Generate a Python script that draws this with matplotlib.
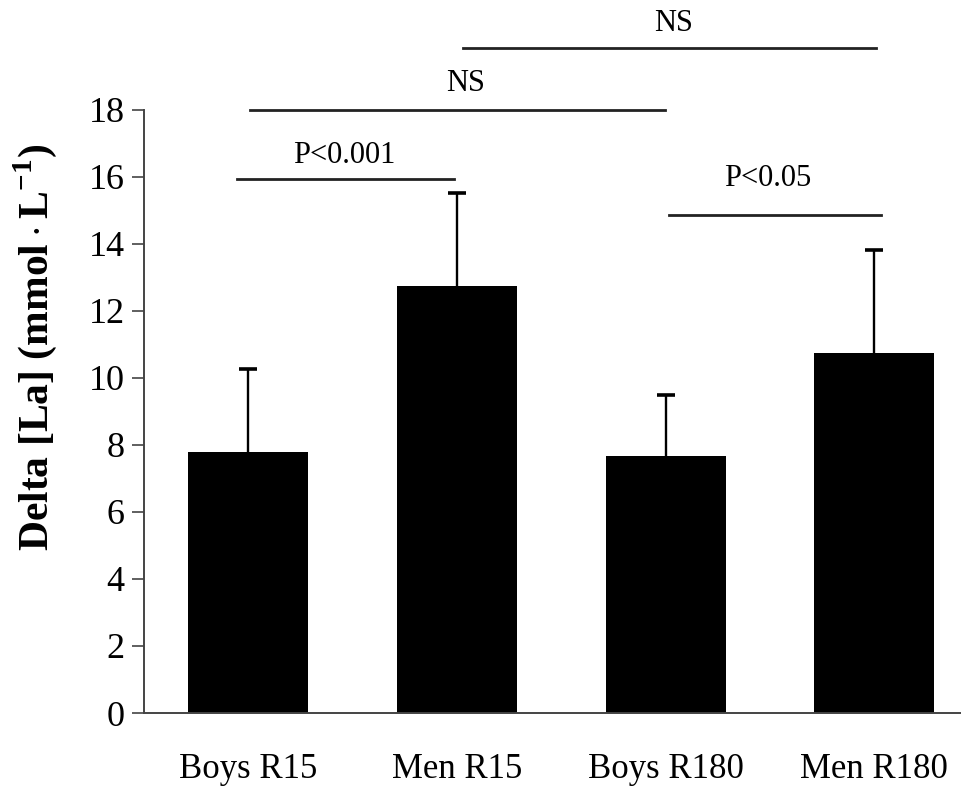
import numpy as np
import matplotlib.pyplot as plt

plt.rcParams["font.family"] = ["Liberation Serif", "DejaVu Serif"]
plt.rcParams["mathtext.fontset"] = "custom"
plt.rcParams["mathtext.rm"] = "Liberation Serif"
plt.rcParams["mathtext.bf"] = "Liberation Serif:bold"

groups = ["Boys R15", "Men R15", "Boys R180", "Men R180"]
delta_la = [7.77, 12.73, 7.66, 10.73]
sd = [2.48, 2.78, 1.81, 3.08]

# significance bars: x start, x end, height, label and label position
sig_x0 = [-0.055, 0.01, 2.015, 1.03]
sig_x1 = [0.985, 1.995, 3.03, 3.01]
sig_y = [15.92, 18.0, 14.85, 19.82]
sig_text = ["P<0.001", "NS", "P<0.05", "NS"]
sig_text_x = [0.46, 1.04, 2.49, 2.04]
sig_text_y = [16.64, 18.78, 15.95, 20.57]

W, H, DPI = 961, 793, 100
fig = plt.figure(figsize=(W / DPI, H / DPI), dpi=DPI)
ax = fig.add_axes([144 / W, 1 - 713 / H, 1 - 144 / W, (713 - 109.5) / H])

x = np.arange(len(groups))
ax.bar(x, delta_la, width=0.575, color="black", zorder=2)
_, caps, _ = ax.errorbar(x, delta_la, yerr=[np.zeros(len(sd)), sd], fmt="none",
                         ecolor="black", elinewidth=1.7, capsize=6.5,
                         capthick=2.6, zorder=1)
# only the upper caps are wanted
for c in caps:
    if np.allclose(c.get_ydata(), delta_la):
        c.remove()

for x0, x1, y, t, tx, ty in zip(sig_x0, sig_x1, sig_y, sig_text, sig_text_x, sig_text_y):
    ax.plot([x0, x1], [y, y], color="#222222", lw=2.0, clip_on=False)
    ax.text(tx, ty, t, ha="center", va="center", fontsize=22, clip_on=False)

ax.set_xlim(-0.5, 3.415)
ax.set_ylim(0, 18)
ax.set_yticks(np.arange(0, 19, 2))
ax.set_xticks(x)
ax.set_xticklabels(groups)
ax.tick_params(axis="x", length=0, pad=29, labelsize=25)
ax.tick_params(axis="y", length=9, width=1.2, pad=5, labelsize=26, color="#444444")

for side in ["top", "right"]:
    ax.spines[side].set_visible(False)
for side in ["left", "bottom"]:
    ax.spines[side].set_linewidth(1.4)
    ax.spines[side].set_color("#444444")

ax.set_ylabel(r"Delta [La] (mmol$\,\mathbf{\cdot}\,$L$^{\mathbf{-1}}$)",
              fontsize=30, fontweight="bold")
ax.yaxis.set_label_coords(-0.104, 0.605)

fig.savefig("out.png", dpi=DPI)
